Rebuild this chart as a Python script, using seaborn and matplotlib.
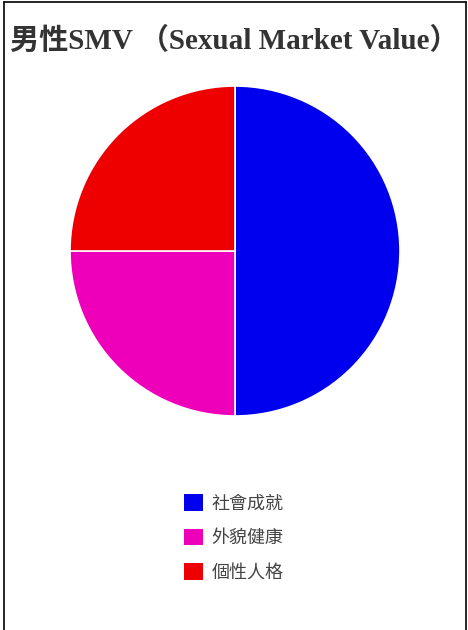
import matplotlib
matplotlib.use("Agg")
import matplotlib.pyplot as plt
import seaborn as sns
from matplotlib.patches import Patch
from matplotlib.lines import Line2D

# Data
title = "男性SMV （Sexual Market Value）"
labels = ["社會成就", "外貌健康", "個性人格"]
values = [50, 25, 25]
colors = ["#0000ee", "#ee00bb", "#ee0000"]

sns.set_theme(style="white")
plt.rcParams['font.family'] = ['Noto Sans CJK TC', 'DejaVu Sans']

fig = plt.figure(figsize=(4.68, 6.30), dpi=100)

# pie area: center (235, 251) px from top, radius 165 px
r = 165
cx, cy = 235, 630 - 251
ax = fig.add_axes([(cx - r) / 468, (cy - r) / 630, 2 * r / 468, 2 * r / 630])
ax.pie(values, colors=colors, startangle=90, counterclock=False,
       wedgeprops=dict(edgecolor="white", linewidth=1.2))
ax.set_xlim(-1, 1)
ax.set_ylim(-1, 1)
ax.set_aspect("auto")
ax.axis("off")

fig.text(0.022, 0.935, title, fontsize=21, color="#333333", va="center", ha="left",
         weight="bold", family=['Liberation Serif', 'Noto Sans CJK TC'])

handles = [Patch(facecolor=c, edgecolor="none") for c in colors]
fig.legend(handles, labels, loc="center", bbox_to_anchor=(0.5, 0.146),
           frameon=False, fontsize=13, handlelength=1.0, handleheight=1.0,
           labelspacing=0.9, handletextpad=0.5, labelcolor="#444444")

# border lines (left, top, right)
xl, xr, yt = 4 / 468, 466 / 468, 628 / 630
for xs, ys in [([xl, xl], [0, yt]), ([xl, xr], [yt, yt]), ([xr, xr], [0, yt])]:
    fig.add_artist(Line2D(xs, ys, transform=fig.transFigure, color="black", linewidth=1.2))

fig.savefig("out.png", dpi=100)
